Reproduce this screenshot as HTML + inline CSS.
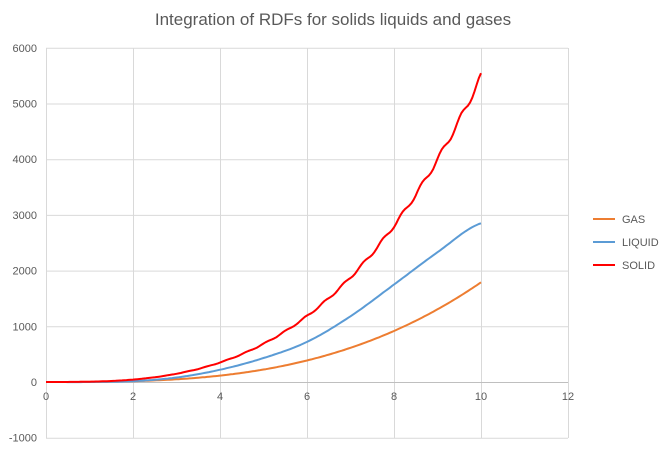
<!DOCTYPE html>
<html><head><meta charset="utf-8"><style>
body{margin:0;background:#fff;}
svg{display:block;font-family:"Liberation Sans",sans-serif;}
</style></head><body>
<svg id="s" width="671" height="451" xmlns="http://www.w3.org/2000/svg">
<rect width="671" height="451" fill="#fff"/>
<text x="333" y="25" text-anchor="middle" font-size="17" fill="#595959">Integration of RDFs for solids liquids and gases</text>
<g id="grid" stroke="#d9d9d9" stroke-width="1"></g>
<g id="lab" font-size="11" fill="#595959"></g>
<g id="series" fill="none" stroke-width="2" stroke-linejoin="round"></g>
<g font-size="11" fill="#595959">
<line x1="593" y1="219" x2="615" y2="219" stroke="#ed7d31" stroke-width="2"/><text x="622" y="223">GAS</text>
<line x1="593" y1="242" x2="615" y2="242" stroke="#5b9bd5" stroke-width="2"/><text x="622" y="246">LIQUID</text>
<line x1="593" y1="265" x2="615" y2="265" stroke="#ff0000" stroke-width="2"/><text x="622" y="269">SOLID</text>
</g>
</svg>
<script>
var NS="http://www.w3.org/2000/svg";
function X(v){return 46+v*43.5;}
function Y(v){return 382-v*0.0557;}
var g=document.getElementById('grid'),l=document.getElementById('lab'),s=document.getElementById('series');
function el(p,t,a,txt){var e=document.createElementNS(NS,t);for(var k in a)e.setAttribute(k,a[k]);if(txt)e.textContent=txt;p.appendChild(e);return e;}
for(var v=-1000;v<=6000;v+=1000){if(v!=0)el(g,'line',{x1:46,x2:568,y1:Y(v)+.5,y2:Y(v)+.5});el(l,'text',{x:37,y:Y(v)+4,'text-anchor':'end'},String(v));}
for(var x=2;x<=12;x+=2){el(g,'line',{x1:X(x)+.5,x2:X(x)+.5,y1:48,y2:438});}
el(g,'line',{x1:46.5,x2:46.5,y1:48,y2:438});
el(g,'line',{x1:46,x2:568,y1:Y(0)+.5,y2:Y(0)+.5,stroke:'#bfbfbf'});
for(var x=0;x<=12;x+=2){el(l,'text',{x:X(x),y:Y(0)+18,'text-anchor':'middle'},String(x));}
function path(f,c){var d='';for(var i=0;i<=200;i++){var x=i*0.05;d+=(i?'L':'M')+X(x).toFixed(1)+','+Y(f(x)).toFixed(1);}el(s,'path',{d:d,stroke:c});}
path(function(x){return 1.79*x*x*x;},'#ed7d31');
var lq=[[0,0],[1,0],[2,15],[3,80],[4,220],[5,430],[6,720],[7,1180],[8,1750],[9,2330],[10,2850]];
path(function(x){var i=Math.min(9,Math.floor(x));var t=x-i;var a=lq[i][1],b=lq[i+1][1];
 var p=lq[Math.max(0,i-1)][1],n=lq[Math.min(10,i+2)][1];
 var m0=(b-p)/2,m1=(n-a)/2,t2=t*t,t3=t2*t;
 return (2*t3-3*t2+1)*a+(t3-2*t2+t)*m0+(-2*t3+3*t2)*b+(t3-t2)*m1;},'#5b9bd5');
path(function(x){return 5.48*x*x*x*(1+0.012*Math.sin(x*14));},'#ff0000');
</script>
</body></html>
